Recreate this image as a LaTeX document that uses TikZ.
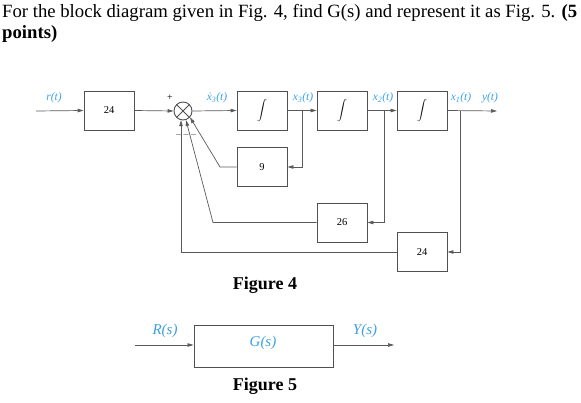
\documentclass[tikz,border=0pt]{standalone}
\usepackage{fontspec}
\setmainfont{Liberation Serif}
\usetikzlibrary{arrows.meta,calc}
\definecolor{lblue}{RGB}{60,160,225}
\definecolor{boxgray}{RGB}{80,80,80}
\definecolor{linegray}{RGB}{90,90,90}
\begin{document}
\begin{tikzpicture}[x=1pt,y=-1pt,
  blk/.style={draw=boxgray,line width=0.9pt,minimum width=50pt,minimum height=39pt,inner sep=0pt,font=\fontsize{10.5}{12}\selectfont},
  wire/.style={draw=linegray,line width=0.7pt},
  arr/.style={wire,-{Triangle[length=6pt,width=3.5pt]}},
  lbl/.style={text=lblue,font=\fontsize{11.5}{13}\selectfont\itshape,inner sep=0pt},
  flbl/.style={text=lblue,font=\fontsize{15}{17}\selectfont\itshape,inner sep=0pt},
  figcap/.style={font=\fontsize{18}{20}\selectfont\bfseries,inner sep=0pt}]
\useasboundingbox (0,0) rectangle (581,403);
% header
\node[anchor=base west,inner sep=0pt,font=\fontsize{18.7}{22}\selectfont] (h1) at (2,18) {For the block diagram given in Fig. 4, find G(s) and represent it as Fig. 5. \textbf{(5}};
\node[anchor=base west,inner sep=0pt,font=\fontsize{18.7}{22}\selectfont\bfseries] (h2) at (2,39) {points)};
% blocks
\node[blk] (b24) at (109,110.5) {24};
\node[draw=boxgray,line width=0.9pt,circle,minimum size=18pt,inner sep=0pt] (sum) at (183,111) {};
\draw[draw=boxgray,line width=0.8pt] (sum.45) -- (sum.225) (sum.135) -- (sum.315);
\node[blk] (i1) at (262,110.5) {$\displaystyle\int$};
\node[blk] (i2) at (342,110.5) {$\displaystyle\int$};
\node[blk] (i3) at (422,110.5) {$\displaystyle\int$};
\node[blk] (g9) at (262,167) {9};
\node[blk] (g26) at (342,222.5) {26};
\node[blk] (g24) at (422,252) {24};
% coordinates
\coordinate (rin) at (36,111);
\coordinate (yout) at (497,111);
\coordinate (br3) at (302,111);
\coordinate (br2) at (384,111);
\coordinate (br1) at (460,111);
\coordinate (k9) at (220,167);
\coordinate (k26) at (213,222.5);
\coordinate (k24) at (181,252);
% connectors
\draw[arr] (rin) -- (b24.west);
\draw[arr] (b24.east) -- (sum.west);
\draw[arr] (sum.east) -- (i1.west);
\draw[arr] (i1.east) -- (i2.west);
\draw[arr] (i2.east) -- (i3.west);
\draw[arr] (i3.east) -- (yout);
\draw[arr] (br3) |- (g9.east);
\draw[arr] (br2) |- (g26.east);
\draw[arr] (br1) |- (g24.east);
\draw[arr] (g9.west) -- (k9) -- (sum.-42);
\draw[arr] (g26.west) -- (k26) -- (sum.-72);
\draw[arr] (g24.west) -- (k24) -- (k24 |- sum.-103);
% labels
\node[lbl] (lr) at (54,98) {r(t)};
\node[font=\fontsize{10}{11}\selectfont,inner sep=0pt] (lplus) at (170,98) {+};
\node[font=\fontsize{10}{11}\selectfont,inner sep=0pt,text=boxgray] (lminus) at (186,136) {\textendash\ \textendash\ \textendash};
\node[lbl] (lx3d) at (217,98) {\.{x}\textsubscript{3}(t)};
\node[lbl] (lx3) at (303,98) {x\textsubscript{3}(t)};
\node[lbl] (lx2) at (383,98) {x\textsubscript{2}(t)};
\node[lbl] (lx1) at (461,98) {x\textsubscript{1}(t)};
\node[lbl] (ly) at (490,98) {y(t)};
\node[figcap] (c4) at (265,285) {Figure 4};
% figure 5
\node[draw=boxgray,line width=0.9pt,minimum width=139pt,minimum height=42pt,inner sep=0pt] (G) at (263.5,346) {};
\node[flbl] (lG) at (263,343) {G(s)};
\coordinate (fin) at (135,345);
\coordinate (fout) at (394,345);
\draw[arr] (fin) -- (fin -| G.west);
\draw[arr] (fout -| G.east) -- (fout);
\node[flbl] (lR) at (165,331) {R(s)};
\node[flbl] (lY) at (365,331) {Y(s)};
\node[figcap] (c5) at (265,386) {Figure 5};
\end{tikzpicture}
\end{document}
